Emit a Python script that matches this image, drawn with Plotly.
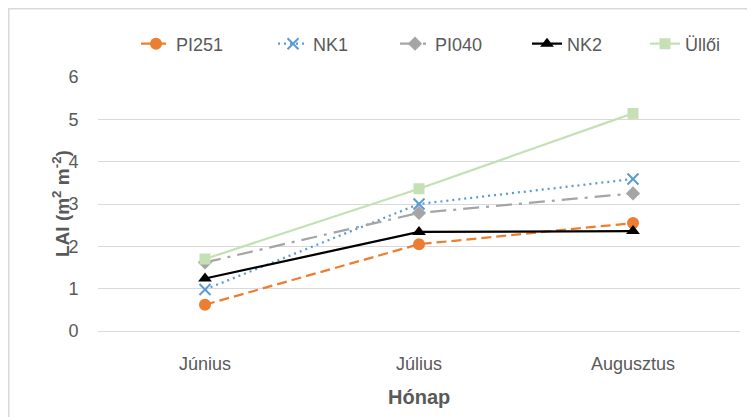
import plotly.graph_objects as go

months = ["Június", "Július", "Augusztus"]
series_names = ["PI251", "NK1", "PI040", "NK2", "Üllői"]
pi251 = [0.62, 2.05, 2.55]
nk1 = [0.98, 3.00, 3.59]
pi040 = [1.62, 2.79, 3.25]
nk2 = [1.24, 2.34, 2.36]
ulloi = [1.70, 3.36, 5.14]
y_ticks = [0, 1, 2, 3, 4, 5, 6]

values = [pi251, nk1, pi040, nk2, ulloi]
colors = ["#ED7D31", "#5B9BD5", "#A5A5A5", "#000000", "#C5E0B4"]
dashes = ["10px,5px", "2px,4px", "16px,7px,3px,7px", "solid", "solid"]
symbols = ["circle", "x-thin", "diamond", "triangle-up", "square"]
sizes = [12, 11, 11, 12, 11]
legend_widths = [92, 77, 87, 73, 40]

# page has an 8px body margin; figure is laid out in figure pixels
W, H = 747, 409
L, R, T, B = 90, 15, 69, 86
PW, PH = W - L - R, H - T - B

def px(xf):
    return (xf - L) / PW

def py(yf):
    return (H - B - yf) / PH

fig = go.Figure()
for name, vals, col, dash, sym, sz, lw in zip(series_names, values, colors, dashes, symbols, sizes, legend_widths):
    marker = dict(symbol=sym, size=sz, color=col)
    if sym == "x-thin":
        marker["line"] = dict(color=col, width=2)
    fig.add_trace(go.Scatter(
        x=months, y=vals, name=name, mode="lines+markers",
        line=dict(color=col, width=2.25, dash=dash),
        marker=marker, legendwidth=lw,
    ))

font_family = "Arial, Liberation Sans, sans-serif"
grey = "#595959"
fig.update_layout(
    width=W, height=H,
    margin=dict(l=L, r=R, t=T, b=B),
    paper_bgcolor="white", plot_bgcolor="white",
    font=dict(family=font_family, size=18, color=grey),
    showlegend=True,
    legend=dict(orientation="h", x=px(128), y=py(36), xanchor="left", yanchor="middle",
                entrywidthmode="pixels", font=dict(size=18, color=grey),
                bgcolor="rgba(0,0,0,0)"),
    xaxis=dict(range=[-0.5, 2.5], showgrid=False, showline=True, linecolor="#D9D9D9",
               linewidth=1, ticks="outside", ticklen=16, tickcolor="rgba(0,0,0,0)",
               tickfont=dict(size=18, color=grey)),
    yaxis=dict(range=[0, 6], tickvals=y_ticks, showgrid=True, gridcolor="#D9D9D9", gridwidth=1,
               zeroline=False, showline=False, ticks="outside", ticklen=15,
               tickcolor="rgba(0,0,0,0)", tickfont=dict(size=18, color=grey)),
    annotations=[
        dict(text="<b>Hónap</b>", xref="paper", yref="paper", x=0.5, y=py(389),
             xanchor="center", yanchor="middle", showarrow=False,
             font=dict(size=20, color=grey)),
        dict(text="<b>LAI (m<sup>2</sup> m<sup>-2</sup>)</b>", xref="paper", yref="paper",
             x=px(53), y=0.5, xanchor="center", yanchor="middle", textangle=-90,
             showarrow=False, font=dict(size=19, color=grey)),
    ],
    shapes=[dict(type="rect", xref="paper", yref="paper",
                 x0=px(0.75), x1=px(800), y0=py(500), y1=py(0.75),
                 line=dict(color="#D9D9D9", width=1.5), fillcolor="rgba(0,0,0,0)", layer="below")],
)

fig.write_html("out.html")
